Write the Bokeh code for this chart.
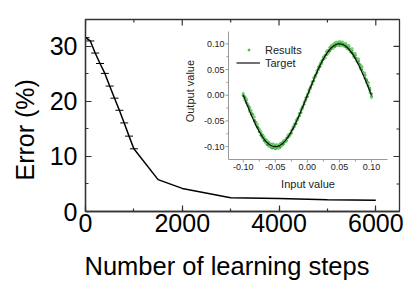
import numpy as np
from bokeh.plotting import figure
from bokeh.models import (Range1d, SingleIntervalTicker, Title,
                          Legend, LegendItem, ColumnDataSource)
from bokeh.core.properties import value
from bokeh.embed import file_html
from bokeh.resources import INLINE

# ---------------- data ----------------
steps = [0, 100, 200, 300, 400, 500, 600, 700, 800, 900, 1000,
         1500, 2000, 3000, 4000, 5000, 6000]
error_pct = [31.6, 31.0, 28.8, 26.9, 25.1, 22.8, 20.6, 18.4, 16.1, 13.7, 11.4,
             5.8, 4.2, 2.5, 2.35, 2.15, 2.05]
n_capped = 11

main_xticks = [0, 2000, 4000, 6000]
main_xminor = [1000, 3000, 5000]
main_yticks = [0, 10, 20, 30]
main_yminor = [5, 15, 25]
main_xlabel = "Number of learning steps"
main_ylabel = "Error (%)"

inset_x_milli = [-100, -97.5, -95, -92.5, -90, -87.5, -85, -82.5, -80, -77.5,
                 -75, -72.5, -70, -67.5, -65, -62.5, -60, -57.5, -55, -52.5,
                 -50, -47.5, -45, -42.5, -40, -37.5, -35, -32.5, -30, -27.5,
                 -25, -22.5, -20, -17.5, -15, -12.5, -10, -7.5, -5, -2.5,
                 0, 2.5, 5, 7.5, 10, 12.5, 15, 17.5, 20, 22.5,
                 25, 27.5, 30, 32.5, 35, 37.5, 40, 42.5, 45, 47.5,
                 50, 52.5, 55, 57.5, 60, 62.5, 65, 67.5, 70, 72.5,
                 75, 77.5, 80, 82.5, 85, 87.5, 90, 92.5, 95, 97.5, 100]
target_y_milli = [0, -7.9, -15.6, -23.3, -30.9, -38.3, -45.4, -52.3, -58.8, -64.9,
                  -70.7, -76.0, -80.9, -85.3, -89.1, -92.4, -95.1, -97.2, -98.8, -99.7,
                  -100, -99.7, -98.8, -97.2, -95.1, -92.4, -89.1, -85.3, -80.9, -76.0,
                  -70.7, -64.9, -58.8, -52.3, -45.4, -38.3, -30.9, -23.3, -15.6, -7.9,
                  0, 7.9, 15.6, 23.3, 30.9, 38.3, 45.4, 52.3, 58.8, 64.9,
                  70.7, 76.0, 80.9, 85.3, 89.1, 92.4, 95.1, 97.2, 98.8, 99.7,
                  100, 99.7, 98.8, 97.2, 95.1, 92.4, 89.1, 85.3, 80.9, 76.0,
                  70.7, 64.9, 58.8, 52.3, 45.4, 38.3, 30.9, 23.3, 15.6, 7.9, 0]
results_a_milli = [2, -2.9, -9.6, -19.3, -23.9, -33.3, -37.4, -48.3, -52.8, -61.9,
                   -65.7, -73.0, -76.9, -83.3, -86.1, -91.4, -92.1, -95.2, -94.8, -98.7,
                   -97, -97.7, -97.8, -94.2, -93.1, -89.4, -88.1, -83.3, -77.9, -75.0,
                   -68.7, -63.9, -55.8, -50.3, -44.4, -35.3, -28.9, -22.3, -13.6, -4.9,
                   1, 9.9, 16.6, 26.3, 32.9, 39.3, 47.4, 55.3, 59.8, 66.9,
                   73.7, 78.0, 83.9, 87.3, 93.1, 94.4, 98.1, 101.2, 100.8, 102.7,
                   102, 103.7, 100.8, 100.2, 99.1, 95.4, 94.1, 89.3, 86.9, 81.0,
                   77.7, 70.9, 66.8, 59.3, 54.4, 44.3, 38.9, 30.3, 24.6, 13.9, 3]
results_b_milli = [-1, -5.9, -14.6, -20.3, -28.9, -37.3, -42.4, -50.3, -57.8, -62.9,
                   -70.7, -78.0, -81.9, -88.3, -91.1, -96.4, -97.1, -100.2, -102.8, -101.7,
                   -104, -102.7, -100.8, -101.2, -97.1, -95.4, -91.1, -88.3, -81.9, -78.0,
                   -73.7, -65.9, -60.8, -55.3, -46.4, -40.3, -33.9, -24.3, -17.6, -8.9,
                   -3, 5.9, 14.6, 21.3, 27.9, 37.3, 43.4, 51.3, 55.8, 62.9,
                   69.7, 73.0, 78.9, 84.3, 86.1, 90.4, 94.1, 94.2, 96.8, 98.7,
                   97, 97.7, 97.8, 95.2, 94.1, 90.4, 89.1, 84.3, 81.9, 76.0,
                   72.7, 65.9, 61.8, 54.3, 49.4, 41.3, 32.9, 27.3, 18.6, 9.9, -2]
results_c_milli = [4, -9.9, -6.6, -17.3, -31.9, -29.3, -40.4, -42.3, -55.8, -56.9,
                   -66.7, -70.0, -83.9, -80.3, -93.1, -88.4, -100.1, -96.2, -99.8, -94.7,
                   -102, -95.7, -103.8, -96.2, -99.1, -88.4, -90.1, -89.3, -76.9, -79.0,
                   -69.7, -60.9, -59.8, -48.3, -48.4, -37.3, -26.9, -26.3, -12.6, -10.9,
                   2, 11.9, 12.6, 24.3, 34.9, 35.3, 48.4, 49.3, 62.8, 60.9,
                   74.7, 72.0, 85.9, 81.3, 90.1, 97.4, 91.1, 98.2, 103.8, 96.7,
                   105, 95.7, 103.8, 96.2, 101.1, 90.4, 97.1, 87.3, 90.9, 74.0,
                   81.7, 67.9, 70.8, 51.3, 56.4, 42.3, 42.9, 24.3, 23.6, 4.9, -5]

inset_ticks = [-0.10, -0.05, 0.0, 0.05, 0.10]
inset_tick_labels = ["-0.10", "-0.05", "0.00", "0.05", "0.10"]
inset_minor_ticks = [-0.075, -0.025, 0.025, 0.075]
inset_xlabel = "Input value"
inset_ylabel = "Output value"
legend_labels = ["Results", "Target"]

# ---------------- layout constants ----------------
BL, BR, BT, BB = 80, 5, 19, 85
FW, FH = 314, 192
XMAX, YMAX = 6490, 34.9
IL, IR, IT, IB = 143, 302, 12, 140
IX0, IX1, IY0, IY1 = -0.123, 0.125, -0.125, 0.124
kx = (IX1 - IX0) / (IR - IL)
ky = (IY1 - IY0) / (IB - IT)

FONT = "Liberation Sans"
FRAME_COL = "#333333"

p = figure(frame_width=FW, frame_height=FH,
           x_range=Range1d(0, XMAX), y_range=Range1d(0, YMAX),
           output_backend="svg", toolbar_location=None, title=None,
           min_border_left=BL, min_border_right=BR, min_border_top=BT,
           min_border_bottom=BB)
p.extra_x_ranges = {"ix": Range1d(IX0 - IL * kx, IX1 + (FW - IR) * kx)}
p.extra_y_ranges = {"iy": Range1d(IY0 - (FH - IB) * ky, IY1 + IT * ky)}
p.xgrid.visible = False
p.ygrid.visible = False
p.outline_line_color = FRAME_COL
p.outline_line_width = 1.3
p.background_fill_color = "white"
p.border_fill_color = "white"

p.xaxis.ticker = SingleIntervalTicker(interval=2000, num_minor_ticks=2)
p.yaxis.ticker = SingleIntervalTicker(interval=10, num_minor_ticks=2)
for ax in p.xaxis + p.yaxis:
    ax.axis_line_color = FRAME_COL
    ax.axis_line_width = 1.3
    ax.major_tick_in = 6
    ax.major_tick_out = 0
    ax.minor_tick_in = 3
    ax.minor_tick_out = 0
    ax.major_tick_line_color = FRAME_COL
    ax.minor_tick_line_color = FRAME_COL
    ax.major_tick_line_width = 1.2
    ax.minor_tick_line_width = 1.2
    ax.major_label_text_font = FONT
    ax.major_label_text_color = "black"
    ax.major_label_text_font_size = "25px"
p.xaxis.major_label_standoff = 2
p.yaxis.major_label_standoff = 8

p.ray(x=main_xticks, y=[YMAX] * len(main_xticks), length=6, angle=-np.pi / 2,
      length_units="screen", line_color=FRAME_COL, line_width=1.2)
p.ray(x=main_xminor, y=[YMAX] * len(main_xminor), length=3, angle=-np.pi / 2,
      length_units="screen", line_color=FRAME_COL, line_width=1.2)
p.ray(x=[XMAX] * len(main_yticks), y=main_yticks, length=6, angle=np.pi,
      length_units="screen", line_color=FRAME_COL, line_width=1.2)
p.ray(x=[XMAX] * len(main_yminor), y=main_yminor, length=3, angle=np.pi,
      length_units="screen", line_color=FRAME_COL, line_width=1.2)

tx = Title(text=main_xlabel, align="left", offset=-1, standoff=31,
           text_font_size="25.5px", text_font=FONT, text_font_style="normal",
           text_color="black")
p.add_layout(tx, "below")
ty = Title(text=main_ylabel, align="left", offset=31, standoff=16,
           text_font_size="25px", text_font=FONT, text_font_style="normal",
           text_color="black")
p.add_layout(ty, "left")

p.line(steps, error_pct, color="black", line_width=1.5)
p.scatter(steps[:n_capped], error_pct[:n_capped], marker="dash", size=8,
          line_color="black", line_width=1)

ix = np.array(inset_x_milli) / 1000.0
res_x = np.concatenate([ix, ix, ix])
res_y = np.concatenate([np.array(results_a_milli), np.array(results_b_milli),
                        np.array(results_c_milli)]) / 1000.0
res_col = (["#3fae3f"] * len(ix)) + (["#2a8f2a"] * len(ix)) + (["#72d072"] * len(ix))
src = ColumnDataSource(dict(x=res_x, y=res_y, c=res_col))
r_res = p.scatter("x", "y", source=src, size=2.0, color="c", alpha=0.85,
                  x_range_name="ix", y_range_name="iy")
r_tgt = p.line(ix, np.array(target_y_milli) / 1000.0, color="#111111", line_width=1.2,
               x_range_name="ix", y_range_name="iy")

AX_COL = "#999999"
p.segment(x0=[IX0, IX0], y0=[IY0, IY0], x1=[IX0, IX1], y1=[IY1, IY0],
          line_color=AX_COL, line_width=1, x_range_name="ix", y_range_name="iy")
nt, nm = len(inset_ticks), len(inset_minor_ticks)
p.ray(x=[IX0] * nt, y=inset_ticks, length=3, angle=np.pi, length_units="screen",
      line_color=AX_COL, x_range_name="ix", y_range_name="iy")
p.ray(x=[IX0] * nm, y=inset_minor_ticks, length=2, angle=np.pi, length_units="screen",
      line_color=AX_COL, x_range_name="ix", y_range_name="iy")
p.ray(x=inset_ticks, y=[IY0] * nt, length=3, angle=-np.pi / 2, length_units="screen",
      line_color=AX_COL, x_range_name="ix", y_range_name="iy")
p.ray(x=inset_minor_ticks, y=[IY0] * nm, length=2, angle=-np.pi / 2, length_units="screen",
      line_color=AX_COL, x_range_name="ix", y_range_name="iy")
p.text(x=[IX0] * nt, y=inset_ticks, text=inset_tick_labels, x_offset=-4,
       text_align="right", text_baseline="middle", text_font=value(FONT),
       text_font_size=value("9px"), text_color="#222222",
       x_range_name="ix", y_range_name="iy")
p.text(x=inset_ticks, y=[IY0] * nt, text=inset_tick_labels, y_offset=4,
       text_align="center", text_baseline="top", text_font=value(FONT),
       text_font_size=value("9px"), text_color="#222222",
       x_range_name="ix", y_range_name="iy")
p.text(x=[(IX0 + IX1) / 2], y=[IY0], text=[inset_xlabel], y_offset=24,
       text_align="center", text_baseline="middle", text_font=value(FONT),
       text_font_size=value("11px"), text_color="#222222",
       x_range_name="ix", y_range_name="iy")
p.text(x=[IX0 - 39 * kx], y=[0.008], text=[inset_ylabel], angle=np.pi / 2,
       text_align="center", text_baseline="middle", text_font=value(FONT),
       text_font_size=value("11px"), text_color="#222222",
       x_range_name="ix", y_range_name="iy")

leg_res = Legend(items=[LegendItem(label=legend_labels[0], renderers=[r_res], index=0)],
                 location=(161, 155), glyph_width=5, glyph_height=13,
                 label_height=13, label_standoff=14, padding=0, spacing=0, margin=0,
                 label_text_font_size="11px", label_text_font=FONT,
                 label_text_color="#222222",
                 background_fill_alpha=0, border_line_alpha=0)
leg_tgt = Legend(items=[LegendItem(label=legend_labels[1], renderers=[r_tgt])],
                 location=(151, 142), glyph_width=24, glyph_height=13,
                 label_height=13, label_standoff=5, padding=0, spacing=0, margin=0,
                 label_text_font_size="11px", label_text_font=FONT,
                 label_text_color="#222222",
                 background_fill_alpha=0, border_line_alpha=0)
p.add_layout(leg_res)
p.add_layout(leg_tgt)

open("out.html", "w").write(file_html(p, INLINE))
